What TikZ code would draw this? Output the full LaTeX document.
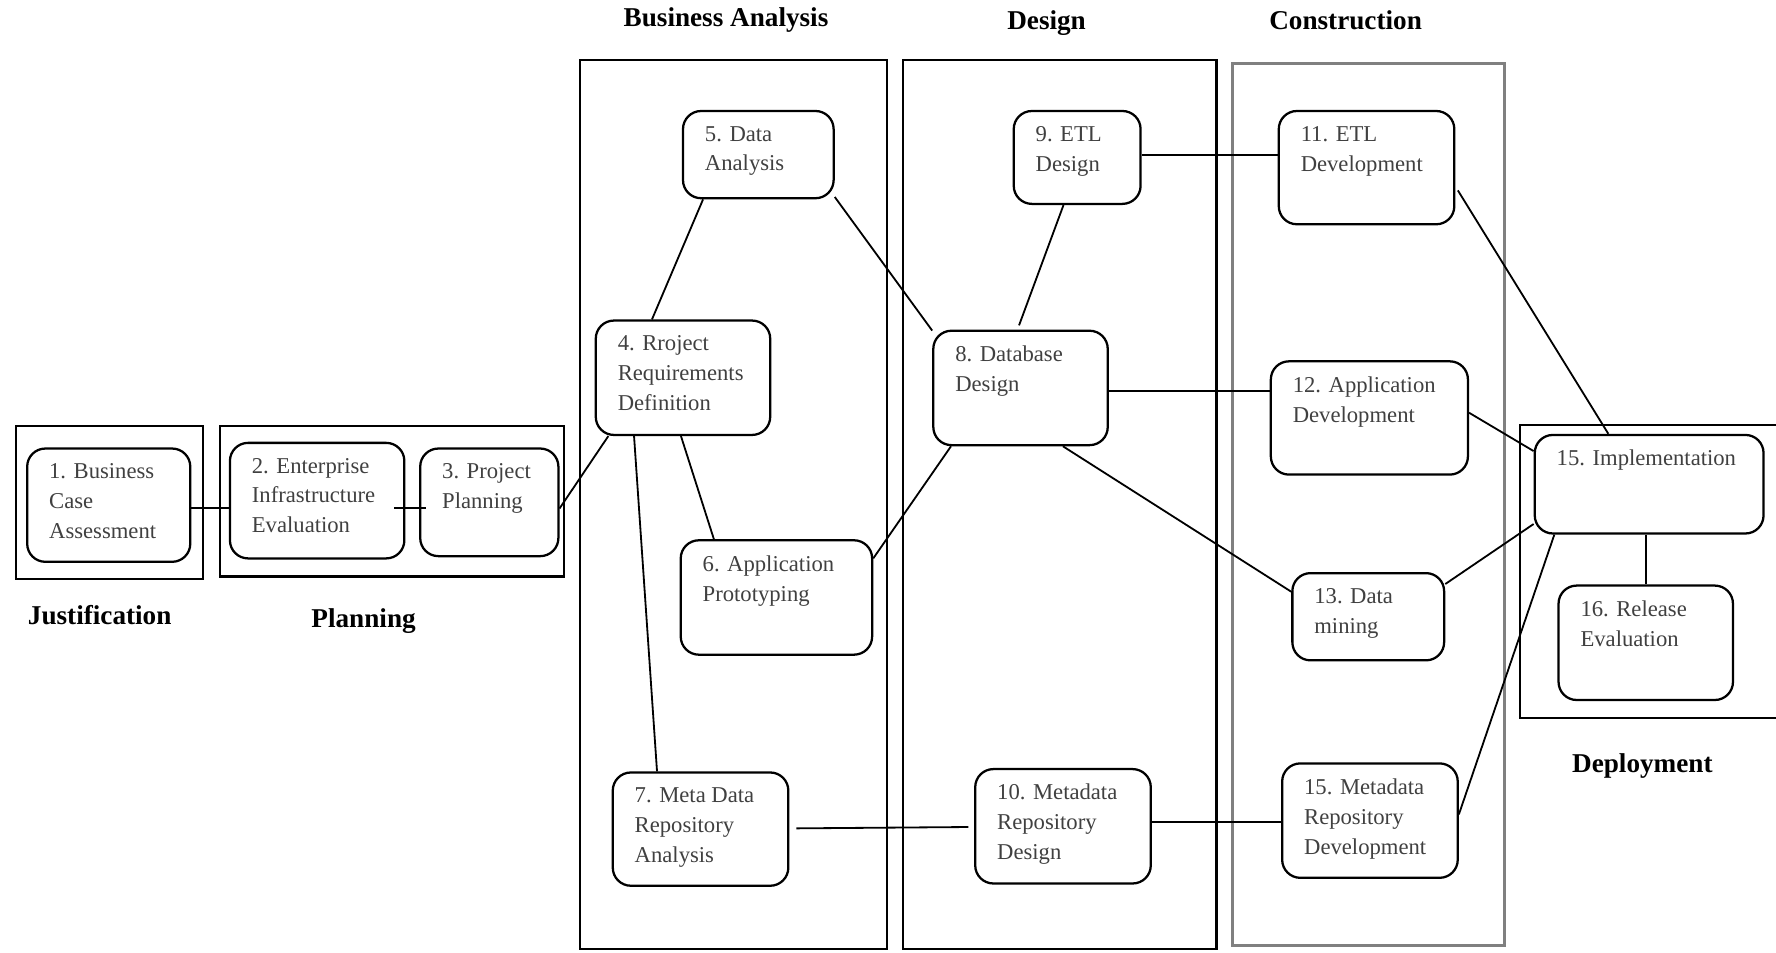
\documentclass[tikz,border=0pt]{standalone}
\usepackage{fontspec}
\setmainfont{Liberation Serif}
\definecolor{textgray}{gray}{0.25}

\begin{document}
\begin{tikzpicture}[x=0.5pt,y=-0.5pt,
	stage/.style={draw,rounded corners=8pt,line width=1pt,anchor=north west,inner sep=0pt},
	stagetext/.style={anchor=north west,align=left,inner sep=0pt,xshift=10pt,yshift=-7pt,text=textgray,font=\fontsize{10}{13.2}\selectfont},
	phase/.style={font=\fontsize{12}{14}\selectfont\bfseries},
	frame/.style={line width=1pt},
	link/.style={line width=0.8pt}]
	
	\useasboundingbox (0,0) rectangle (1568,841);
	
	% phase frames
	\draw[frame] (14,376) rectangle (179,511);
	\draw[frame] (194,376) rectangle (498,509);
	\draw[frame] (512,53) rectangle (783,838);
	\draw[frame] (797,53) rectangle (1074,838);
	\draw[frame,draw=gray,line width=1.4pt] (1088,56) rectangle (1328,835);
	\draw[frame] (1590,375) -- (1342,375) -- (1342,634) -- (1590,634);
	
	\node[phase] (justification) at (88,543) {Justification};
	\node[phase] (planning) at (321,548) {Planning};
	\node[phase] (analysis) at (641,18) {Business Analysis};
	\node[phase] (design) at (924,20) {Design};
	\node[phase] (construction) at (1188,18) {Construction};
	\node[phase] (deployment) at (1450,676) {Deployment};
	
	% stages
	\node[stage,minimum width=72pt,minimum height=50pt,label={[stagetext]north west:{1. Business\\Case\\Assessment}}] (1) at (23,395) {};
	\node[stage,minimum width=77pt,minimum height=51pt,label={[stagetext]north west:{2. Enterprise\\Infrastructure\\Evaluation}}] (2) at (202,390) {};
	\node[stage,minimum width=61pt,minimum height=47.5pt,label={[stagetext]north west:{3. Project\\Planning}}] (3) at (370,395) {};
	\node[stage,minimum width=77pt,minimum height=50.5pt,label={[stagetext]north west:{4. Rroject\\Requirements\\Definition}}] (4) at (525,282) {};
	\node[stage,minimum width=66.5pt,minimum height=38.5pt,label={[stagetext]north west:{5. Data\\Analysis}}] (5) at (602,97) {};
	\node[stage,minimum width=84.5pt,minimum height=50.5pt,label={[stagetext]north west:{6. Application\\Prototyping}}] (6) at (600,476) {};
	\node[stage,minimum width=77.5pt,minimum height=50pt,label={[stagetext]north west:{7. Meta Data\\Repository\\Analysis}}] (7) at (540,681) {};
	\node[stage,minimum width=77pt,minimum height=50.5pt,label={[stagetext]north west:{8. Database\\Design}}] (8) at (823,291) {};
	\node[stage,minimum width=56pt,minimum height=41pt,label={[stagetext]north west:{9. ETL\\Design}}] (9) at (894,97) {};
	\node[stage,minimum width=77.5pt,minimum height=50.5pt,label={[stagetext]north west:{10. Metadata\\Repository\\Design}}] (10) at (860,678) {};
	\node[stage,minimum width=77.5pt,minimum height=50pt,label={[stagetext]north west:{11. ETL\\Development}}] (11) at (1128,97) {};
	\node[stage,minimum width=87pt,minimum height=50pt,label={[stagetext]north west:{12. Application\\Development}}] (12) at (1121,318) {};
	\node[stage,minimum width=67pt,minimum height=38.5pt,label={[stagetext]north west:{13. Data\\mining}}] (13) at (1140,505) {};
	\node[stage,minimum width=77.5pt,minimum height=50.5pt,label={[stagetext]north west:{15. Metadata\\Repository\\Development}}] (14) at (1131,673) {};
	\node[stage,minimum width=101pt,minimum height=43.5pt,label={[stagetext]north west:{15. Implementation}}] (15) at (1354,383) {};
	\node[stage,minimum width=77pt,minimum height=50.5pt,label={[stagetext]north west:{16. Release\\Evaluation}}] (16) at (1375,516) {};
	
	% links
	\draw[link] (1.-2) -- (1.-2 -| 2.west);
	\draw[link,shorten <=-5pt,shorten >=-3pt] (2.-5) -- (2.-5 -| 3.west);
	\draw[link] (3.-5) -- (4.218);
	\draw[link] (4.118) -- (5.219);
	\draw[link] (4.268) -- (6.137);
	\draw[link] (4.230) -- (7.127);
	\draw[link] (5.-29) -- (8.147);
	\draw[link] (6.22) -- (8.220);
	\draw[link,shorten <=3pt,shorten >=2.5pt] (7) -- (10);
	\draw[link,shorten <=2pt] (8.93) -- (9.254);
	\draw[link] (8.-2) -- (8.-2 -| 12.west);
	\draw[link] (8.-54) -- (13.162);
	\draw[link] (9.2) -- (9.2 -| 11.west);
	\draw[link] (10.3) -- (10.3 -| 14.west);
	\draw[link,shorten <=2pt] (11.-12) -- (15.129);
	\draw[link] (12.3) -- (15.164);
	\draw[link] (13.23) -- (15.199);
	\draw[link] (14.4) -- (15.208);
	\draw[link] (16.north) -- (16.north |- 15.south);
\end{tikzpicture}
\end{document}
